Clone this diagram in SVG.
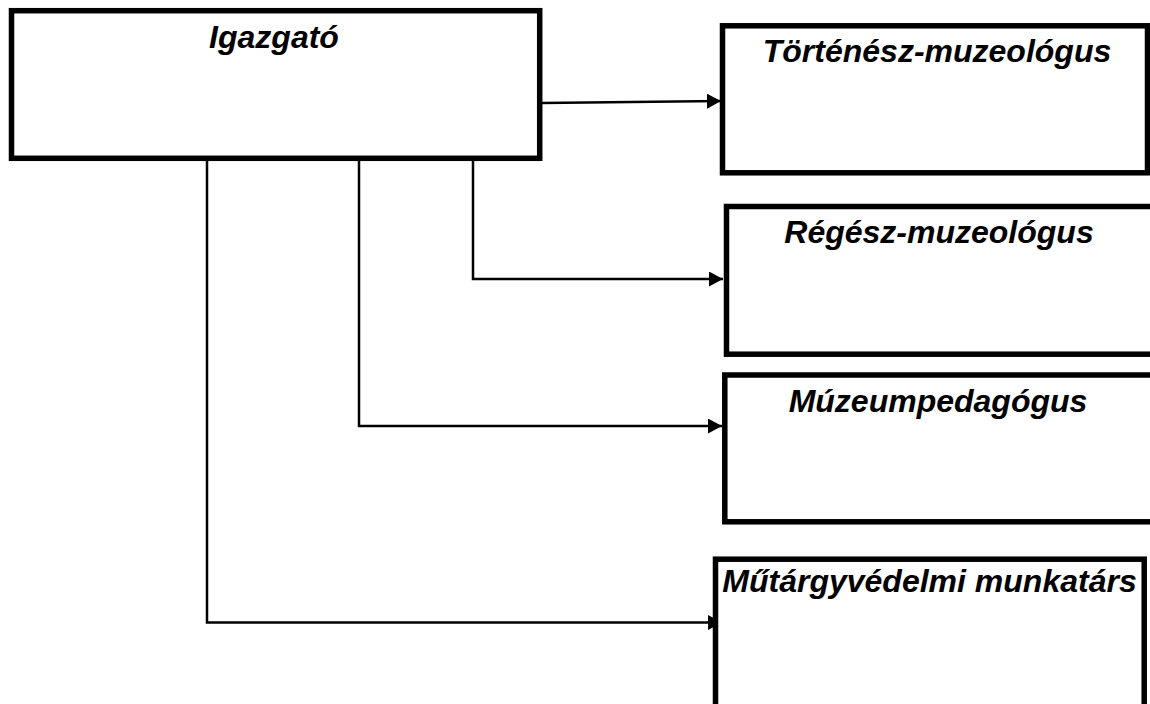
<svg xmlns="http://www.w3.org/2000/svg" width="1150" height="704" viewBox="0 0 1150 704">
<defs>
<style>
.box{fill:#fff;stroke:#000;stroke-width:5.5}
.lbl{font-family:"Liberation Sans",Arial,sans-serif;font-size:32px;font-weight:bold;font-style:italic;fill:#000;text-anchor:middle}
.conn{fill:none;stroke:#000;stroke-width:2.5}
</style>
<marker id="arr" markerUnits="userSpaceOnUse" markerWidth="16" markerHeight="16" refX="14" refY="7.5" orient="auto">
<path d="M0,0 L14,7.5 L0,15 z" fill="#000"/>
</marker>
</defs>
<rect width="1150" height="704" fill="#fff"/>
<g id="connectors">
<path class="conn" d="M542,103 L721,101" marker-end="url(#arr)"/>
<path class="conn" d="M473,161 V279 H723" marker-end="url(#arr)"/>
<path class="conn" d="M359,161 V426 H722" marker-end="url(#arr)"/>
<path class="conn" d="M207,161 V622.5 H722" marker-end="url(#arr)"/>
</g>
<g id="igazgato">
<rect class="box" x="11.5" y="10.7" width="528.2" height="147.6"/>
<text class="lbl" x="274" y="48">Igazgató</text>
</g>
<g id="tortenesz">
<rect class="box" x="722.5" y="25.8" width="425" height="147"/>
<text class="lbl" x="937" y="62">Történész-muzeológus</text>
</g>
<g id="regesz">
<rect class="box" x="726.5" y="206.5" width="430" height="147.7"/>
<text class="lbl" x="939" y="243">Régész-muzeológus</text>
</g>
<g id="muzeumpedagogus">
<rect class="box" x="724.8" y="375" width="432" height="146.8"/>
<text class="lbl" x="938" y="411.5">Múzeumpedagógus</text>
</g>
<g id="mutargyvedelmi">
<rect class="box" x="715.5" y="559.2" width="428.7" height="155"/>
<text class="lbl" x="929.5" y="592">Műtárgyvédelmi munkatárs</text>
</g>
</svg>
